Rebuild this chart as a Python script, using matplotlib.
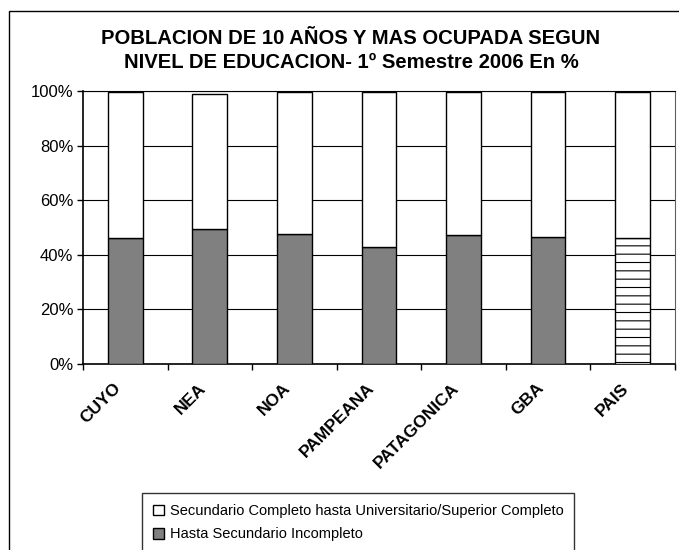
import matplotlib
matplotlib.use("Agg")
from matplotlib import pyplot as plt
from matplotlib.patches import Rectangle, Patch
from matplotlib.ticker import FixedLocator, PercentFormatter
from matplotlib.transforms import ScaledTranslation
import numpy as np

plt.rcParams['font.family'] = ['Liberation Sans', 'DejaVu Sans']
plt.rcParams['hatch.linewidth'] = 0.8

regiones = ['CUYO', 'NEA', 'NOA', 'PAMPEANA', 'PATAGONICA', 'GBA', 'PAIS']
hasta_sec_incompleto = [46.0, 49.3, 47.6, 42.8, 47.2, 46.6, 46.0]
sec_completo_a_superior = [53.5, 49.7, 51.9, 56.7, 52.3, 52.9, 53.5]

fig = plt.figure(figsize=(6.79, 5.5), dpi=100)
ax = fig.add_axes([0.1222, 0.3382, 0.8719, 0.4964])

# outer frame (goes off right and bottom like the original)
fig.patches.append(Rectangle((9 / 679, -0.1), 1.2, 1 - 11 / 550 + 0.1, transform=fig.transFigure,
                             fill=False, edgecolor='black', linewidth=1))

x = np.arange(len(regiones))
w = 0.41
ax.yaxis.grid(True, color='black', linewidth=0.8)
ax.set_axisbelow(True)

for i in range(len(regiones)):
    if regiones[i] == 'PAIS':
        ax.bar(x[i], hasta_sec_incompleto[i], w, color='white', edgecolor='black',
               hatch='--', linewidth=1, zorder=3)
    else:
        ax.bar(x[i], hasta_sec_incompleto[i], w, color='#808080', edgecolor='black',
               linewidth=1, zorder=3)
ax.bar(x, sec_completo_a_superior, w, bottom=hasta_sec_incompleto, color='white',
       edgecolor='black', linewidth=1, zorder=3)

ax.set_xlim(-0.5, len(regiones) - 0.5)
ax.set_ylim(0, 100)
ax.yaxis.set_major_locator(FixedLocator([0, 20, 40, 60, 80, 100]))
ax.yaxis.set_major_formatter(PercentFormatter(decimals=0))
ax.tick_params(axis='y', direction='out', length=4, width=1, labelsize=12, pad=3)

ax.set_xticks(x)
ax.set_xticklabels(regiones, rotation=45, ha='right', rotation_mode='anchor',
                   fontsize=12.5, fontweight='bold')
ax.tick_params(axis='x', which='major', length=0, pad=12)
ax.set_xticks(np.arange(-0.5, len(regiones)), minor=True)
ax.tick_params(axis='x', which='minor', direction='out', length=4, width=1)
shift = ScaledTranslation(-12 / 100, 0, fig.dpi_scale_trans)
for lab in ax.get_xticklabels():
    lab.set_transform(lab.get_transform() + shift)

for s in ['left', 'bottom']:
    ax.spines[s].set_linewidth(1.2)
ax.spines['top'].set_linewidth(0.8)
ax.spines['right'].set_color('#606060')

fig.text(0.517, 1 - 38 / 550, 'POBLACION DE 10 AÑOS Y MAS OCUPADA SEGUN',
         ha='center', va='center', fontsize=14.6, fontweight='bold')
fig.text(0.517, 1 - 63 / 550, 'NIVEL DE EDUCACION- 1º Semestre 2006 En %',
         ha='center', va='center', fontsize=14.6, fontweight='bold')

handles = [Patch(facecolor='white', edgecolor='black', label='Secundario Completo hasta Universitario/Superior Completo'),
           Patch(facecolor='#808080', edgecolor='black', label='Hasta Secundario Incompleto')]
leg = fig.legend(handles=handles, loc='upper left', bbox_to_anchor=(142 / 679, 1 - 493 / 550),
                 fontsize=10.5, frameon=True, fancybox=False, edgecolor='black',
                 handlelength=0.75, handleheight=0.75, handletextpad=0.4,
                 borderpad=0.75, labelspacing=0.65, borderaxespad=0)
leg.get_frame().set_linewidth(1)

fig.savefig('out.png', dpi=100)
